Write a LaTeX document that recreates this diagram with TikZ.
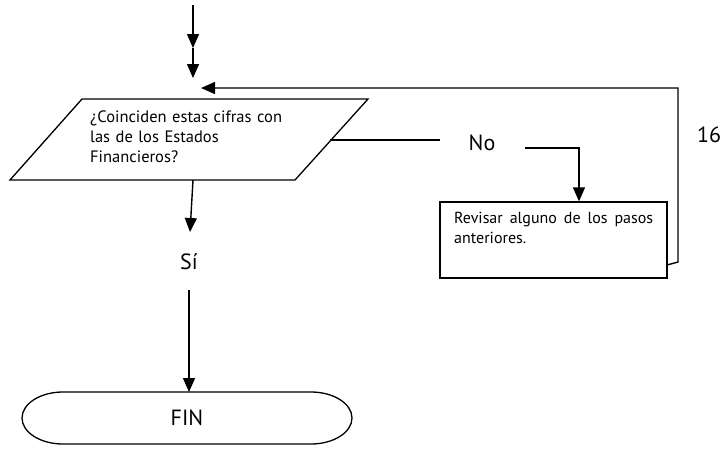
\documentclass[tikz,border=0pt]{standalone}
\usepackage{fontspec}
\setmainfont{PT Sans}
\usetikzlibrary{arrows.meta}
\tikzset{
  conn/.style={line width=1.4pt},
  arr/.style={conn,-{Triangle[length=14pt,width=12pt]}},
  shp/.style={draw,line width=1.3pt},
  small/.style={font=\fontsize{16.5}{20}\selectfont},
  big/.style={font=\fontsize{22}{26}\selectfont},
}
\begin{document}
\begin{tikzpicture}[x=1pt,y=-1pt]
\useasboundingbox (0,0) rectangle (725,448);
% entry arrows
\coordinate (top) at (193,5);
\coordinate (mid) at (193,48);
\coordinate (in1) at (193,78);
\draw[arr] (top) -- (mid);
\draw[arr] (mid) -- (in1);
% decision parallelogram
\coordinate (p1) at (82,99);
\coordinate (p2) at (368,99);
\coordinate (p3) at (295,180);
\coordinate (p4) at (10,180);
\draw[shp] (p1) -- (p2) -- (p3) -- (p4) -- cycle;
\node[small,anchor=north west,text width=210pt,align=left,inner sep=0pt] (qtext) at (90,111)
  {¿Coinciden estas cifras con\\las de los Estados\\Financieros?};
% No branch
\coordinate (qr) at (330,140);
\coordinate (noL) at (440,140);
\node[big] (no) at (482,143) {No};
\coordinate (noR) at (525,148);
\coordinate (noC) at (579,148);
\node[shp,minimum width=227pt,minimum height=76pt,inner sep=0pt] (box) at (553.5,240) {};
\node[font=\fontsize{16}{20}\selectfont,anchor=north west,text width=199pt,align=justify,inner sep=0pt] (btext) at (454,212)
  {\hyphenpenalty=10000\relax Revisar alguno de los pasos anteriores.};
\draw[conn] (qr) -- (noL);
\draw[arr] (noR) -- (noC) -- (noC |- box.north);
% loop back
\coordinate (r0) at (667,265);
\coordinate (r1) at (678,262);
\coordinate (r2) at (678,88);
\coordinate (r3) at (201,88);
\draw[arr] (r0) -- (r1) -- (r2) -- (r3);
\node[big] (n16) at (709,135) {16};
% Yes branch
\coordinate (qb) at (193,180);
\coordinate (sa) at (190,232);
\draw[arr] (qb) -- (sa);
\node[big] (si) at (189,262) {Sí};
\coordinate (sb) at (189,290);
\node[big,inner sep=0pt] (fin) at (187,418) {FIN};
\draw[shp] (63,392) -- (311,392) arc[start angle=-90,end angle=90,x radius=41,y radius=26]
  -- (63,444) arc[start angle=90,end angle=270,x radius=41,y radius=26] -- cycle;
\coordinate (finT) at (189,392);
\draw[arr] (sb) -- (finT);
\end{tikzpicture}
\end{document}
